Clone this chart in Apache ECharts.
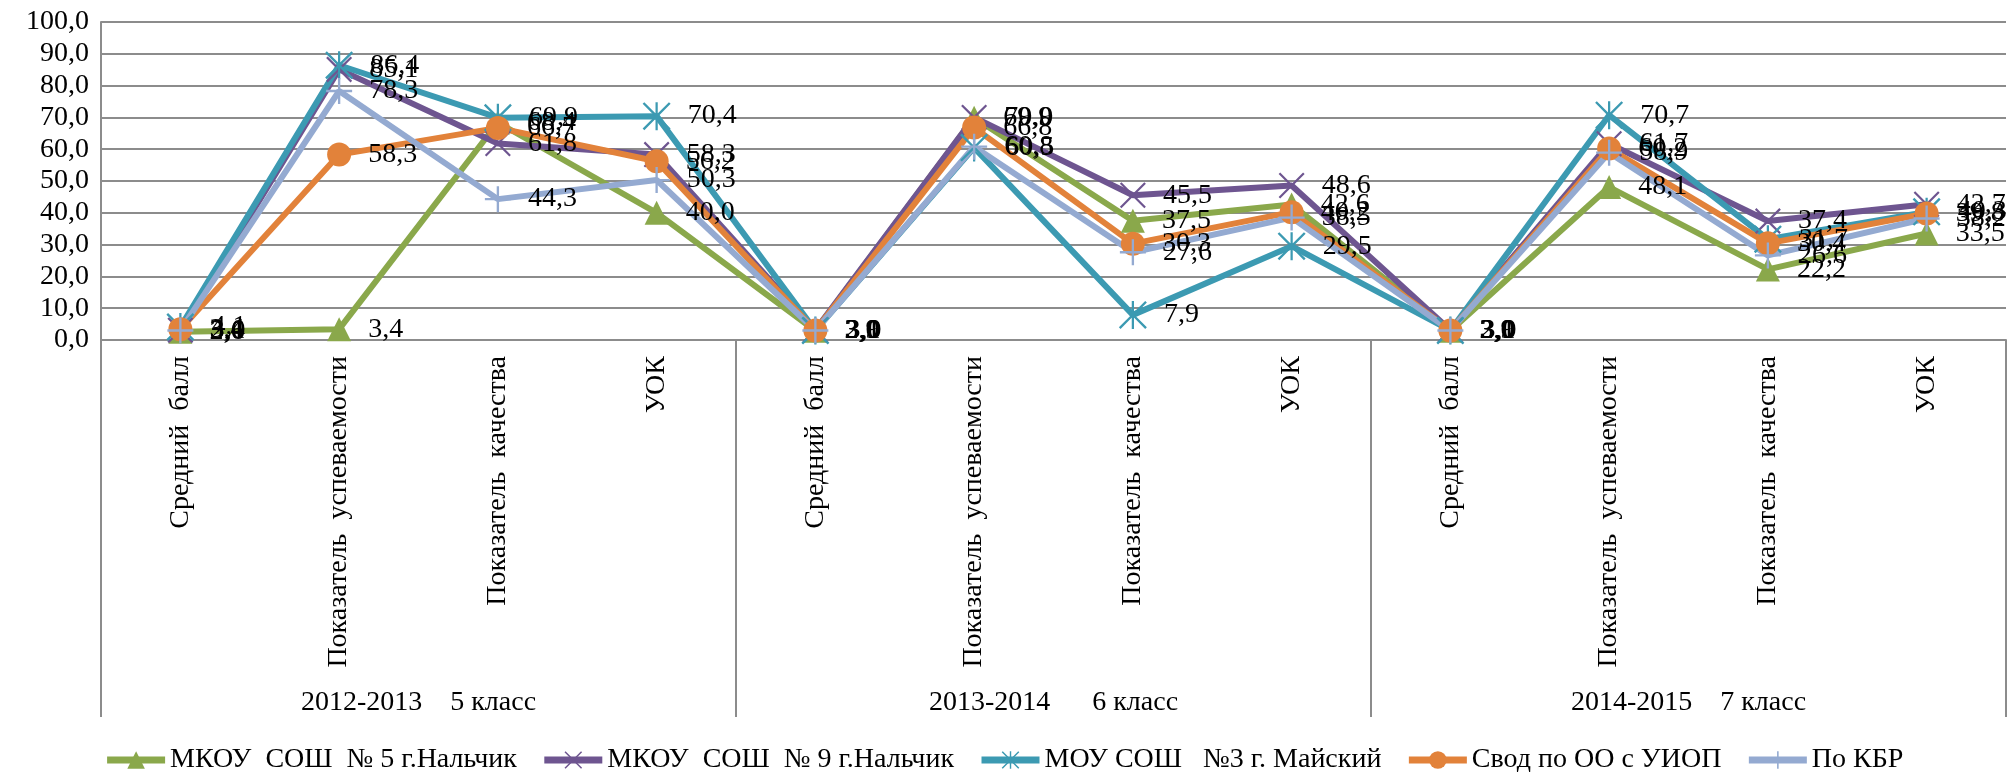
<!DOCTYPE html>
<html>
<head>
<meta charset="utf-8">
<script src="https://cdn.jsdelivr.net/npm/echarts@6/dist/echarts.min.js"></script>
<style>
html,body{margin:0;padding:0;background:#fff;}
#chart{width:2007px;height:772px;}
</style>
</head>
<body>
<div id="chart"></div>
<script>
// ---- data ----
var categories = [
  'Средний  балл', 'Показатель  успеваемости', 'Показатель  качества', 'УОК',
  'Средний  балл', 'Показатель  успеваемости', 'Показатель  качества', 'УОК',
  'Средний  балл', 'Показатель  успеваемости', 'Показатель  качества', 'УОК'
];
var groups = ['2012-2013    5 класс', '2013-2014      6 класс', '2014-2015    7 класс'];
var seriesNames = [
  'МКОУ  СОШ  № 5 г.Нальчик',
  'МКОУ  СОШ  № 9 г.Нальчик',
  'МОУ СОШ   №3 г. Майский',
  'Свод по ОО с УИОП',
  'По КБР'
];
var school5  = [2.6, 3.4, 68.4, 40.0, 2.9, 69.9, 37.5, 42.6, 2.9, 48.1, 22.2, 33.5];
var school9  = [3.1, 85.1, 61.8, 58.3, 3.1, 70.0, 45.5, 48.6, 3.1, 61.7, 37.4, 42.7];
var mayskiy  = [4.1, 86.4, 69.9, 70.4, 3.0, 60.5, 7.9, 29.5, 3.0, 70.7, 31.7, 40.3];
var svod     = [3.4, 58.3, 66.7, 56.2, 3.0, 66.8, 30.3, 40.2, 3.0, 60.2, 30.4, 39.8];
var kbr      = [3.0, 78.3, 44.3, 50.3, 3.0, 60.8, 27.6, 38.5, 3.0, 58.9, 26.6, 38.2];
var yTicks = [0, 10, 20, 30, 40, 50, 60, 70, 80, 90, 100];

var colors = ['#8AA84B', '#6E5590', '#3C9AB2', '#E2823A', '#94AAD1'];
var FONT = 'Liberation Serif';

var symX = 'path://M0,1.2 L1.2,0 L10,8.8 L18.8,0 L20,1.2 L11.2,10 L20,18.8 L18.8,20 L10,11.2 L1.2,20 L0,18.8 L8.8,10 Z';
var symStar = 'path://M0,1.2 L1.2,0 L10,8.8 L18.8,0 L20,1.2 L11.2,10 L20,18.8 L18.8,20 L10,11.2 L1.2,20 L0,18.8 L8.8,10 Z M9.2,0 L10.8,0 L10.8,20 L9.2,20 Z';
var symPlus = 'path://M9.1,0 L10.9,0 L10.9,9.1 L20,9.1 L20,10.9 L10.9,10.9 L10.9,20 L9.1,20 L9.1,10.9 L0,10.9 L0,9.1 L9.1,9.1 Z';

var seriesData = [school5, school9, mayskiy, svod, kbr];
var symbols = ['triangle', symX, symStar, 'circle', symPlus];
var symbolSizes = [24, 26, 28, 24, 26];

function fmt(v){ return v.toFixed(1).replace('.', ','); }

var series = seriesData.map(function(d, i){
  return {
    name: seriesNames[i],
    type: 'line',
    xAxisIndex: 0,
    data: d,
    symbol: symbols[i],
    symbolSize: symbolSizes[i],
    symbolKeepAspect: true,
    lineStyle: {width: 6, color: colors[i]},
    itemStyle: {color: colors[i]},
    label: {
      show: true,
      position: 'right',
      distance: 17,
      color: '#000',
      fontFamily: FONT,
      fontSize: 28,
      formatter: function(p){ return fmt(p.value); }
    },
    emphasis: {disabled: true},
    animation: false
  };
});

var chart = echarts.init(document.getElementById('chart'));
chart.setOption({
  backgroundColor: '#fff',
  animation: false,
  color: colors,
  grid: {left: 101, right: 1, top: 22, bottom: 432, containLabel: false},
  legend: {
    top: 741,
    left: 'center',
    itemWidth: 58,
    itemHeight: 22,
    itemGap: 24,
    lineStyle: {width: 7},
    textStyle: {fontFamily: FONT, fontSize: 28, color: '#000'},
    data: seriesNames
  },
  xAxis: [
    {
      type: 'category',
      data: categories,
      position: 'bottom',
      boundaryGap: true,
      axisLine: {show: true, lineStyle: {color: '#8c8c8c', width: 2}},
      axisTick: {show: false},
      axisLabel: {
        interval: 0,
        rotate: 90,
        margin: 16,
        color: '#000',
        fontFamily: FONT,
        fontSize: 28
      }
    },
    {
      type: 'category',
      data: groups,
      position: 'bottom',
      boundaryGap: true,
      axisLine: {show: false},
      axisTick: {show: true, length: 377, lineStyle: {color: '#8c8c8c', width: 2}},
      axisLabel: {
        interval: 0,
        margin: 349,
        color: '#000',
        fontFamily: FONT,
        fontSize: 28
      },
      splitLine: {show: false}
    }
  ],
  yAxis: {
    type: 'value',
    min: 0,
    max: 100,
    interval: 10,
    axisLine: {show: true, lineStyle: {color: '#8c8c8c', width: 2}},
    axisTick: {show: false},
    splitLine: {show: true, lineStyle: {color: '#8c8c8c', width: 2}},
    axisLabel: {
      color: '#000',
      fontFamily: FONT,
      fontSize: 28,
      margin: 12,
      formatter: function(v){ return yTicks.indexOf(v) >= 0 ? fmt(v) : ''; }
    }
  },
  series: series
});
</script>
</body>
</html>
